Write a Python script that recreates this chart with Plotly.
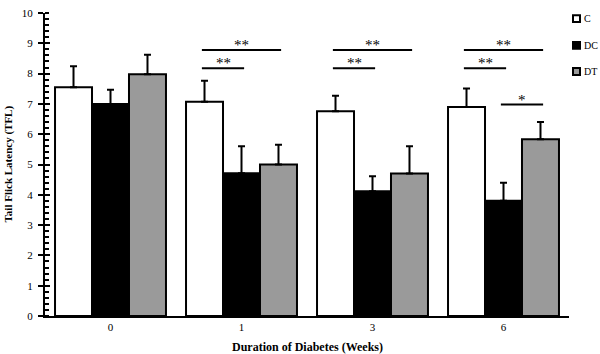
import plotly.graph_objects as go

# ---------------- data ----------------
weeks = ["0", "1", "3", "6"]
series_names = ["C", "DC", "DT"]
series_colors = ["#ffffff", "#000000", "#9a9a9a"]

mean_C = [7.55, 7.07, 6.76, 6.90]
mean_DC = [7.00, 4.71, 4.12, 3.80]
mean_DT = [7.98, 5.00, 4.70, 5.83]

err_C = [0.69, 0.69, 0.51, 0.61]
err_DC = [0.47, 0.89, 0.49, 0.60]
err_DT = [0.64, 0.65, 0.90, 0.57]

# significance brackets: group index, from-bar, to-bar, height, label
sig_group = [1, 1, 2, 2, 3, 3, 3]
sig_from = [0, 0, 0, 0, 0, 0, 1]
sig_to = [2, 1, 2, 1, 2, 1, 2]
sig_y = [8.78, 8.18, 8.78, 8.18, 8.78, 8.18, 6.98]
sig_label = ["**", "**", "**", "**", "**", "**", "*"]

means = [mean_C, mean_DC, mean_DT]
errs = [err_C, err_DC, err_DT]

FONT = "Liberation Serif"
bargap = 0.153
bw = (1 - bargap) / 3  # width of one bar in x units

fig = go.Figure()
xs = list(range(len(weeks)))
for name, color, m, e in zip(series_names, series_colors, means, errs):
    fig.add_trace(go.Bar(
        x=xs, y=m, name=name,
        marker=dict(color=color, line=dict(color="black", width=2)),
        error_y=dict(type="data", symmetric=False, array=e,
                     arrayminus=[0] * len(e), color="black",
                     thickness=2, width=3.5),
        showlegend=False,
    ))

# dummy trace to show the secondary (inside-tick) y axis
fig.add_trace(go.Scatter(x=[0], y=[0], yaxis="y2", mode="markers",
                         marker=dict(opacity=0), showlegend=False,
                         hoverinfo="skip"))

# significance lines and stars
shapes = []
annotations = []
pad = 0.02
for g, a, b, yv, lab in zip(sig_group, sig_from, sig_to, sig_y, sig_label):
    x0 = g + (a - 1) * bw - pad
    x1 = g + (b - 1) * bw + pad
    shapes.append(dict(type="line", xref="x", yref="y", x0=x0, x1=x1,
                       y0=yv, y1=yv, line=dict(color="black", width=2)))
    annotations.append(dict(x=(x0 + x1) / 2, y=yv, xref="x", yref="y",
                            text=lab, showarrow=False, yanchor="bottom",
                            yshift=-5,
                            font=dict(family=FONT, size=15, color="black")))

# x axis extension to the left of the y axis
shapes.append(dict(type="line", xref="paper", yref="y", x0=-0.0095, x1=0,
                   y0=0, y1=0, line=dict(color="black", width=2)))

# manual legend
L, T, W, H = 45, 7, 524, 309
def px2paper(px, py):
    return (px - L) / W, (316 - py) / H

leg_y = [12.7, 40.0, 66.7]
for name, color, py in zip(series_names, series_colors, leg_y):
    x0, y0 = px2paper(573, py - 3.5)
    x1, y1 = px2paper(580, py + 3.5)
    shapes.append(dict(type="rect", xref="paper", yref="paper",
                       x0=x0, x1=x1, y0=y0, y1=y1, fillcolor=color,
                       line=dict(color="black", width=2)))
    tx, ty = px2paper(583, py)
    annotations.append(dict(x=tx, y=ty, xref="paper", yref="paper",
                            text=name, showarrow=False, xanchor="left",
                            yanchor="middle", borderpad=0,
                            font=dict(family=FONT, size=10, color="black")))

# axis titles
annotations.append(dict(x=0.5, y=px2paper(0, 348)[1], xref="paper",
                        yref="paper", text="<b>Duration of Diabetes (Weeks)</b>",
                        showarrow=False, yanchor="middle",
                        font=dict(family=FONT, size=12, color="black")))
annotations.append(dict(x=px2paper(8, 0)[0], y=0.5, xref="paper",
                        yref="paper", text="<b>Tail Flick Latency (TFL)</b>",
                        showarrow=False, textangle=-90, xanchor="center",
                        yanchor="middle",
                        font=dict(family=FONT, size=11, color="black")))

fig.update_layout(
    width=600, height=354,
    margin=dict(l=45, r=31, t=7, b=38),
    paper_bgcolor="white", plot_bgcolor="white",
    barmode="group", bargap=bargap, bargroupgap=0,
    font=dict(family=FONT, size=11, color="black"),
    xaxis=dict(range=[-0.5, 3.5], tickvals=xs, ticktext=weeks,
               showline=True, linecolor="black", linewidth=2,
               ticks="", showgrid=False, zeroline=False,
               tickfont=dict(family=FONT, size=11)),
    yaxis=dict(range=[0, 10], dtick=1, showline=True, linecolor="black",
               linewidth=2, ticks="outside", ticklen=5, tickwidth=2,
               tickcolor="black", showgrid=False, zeroline=False,
               ticklabelstandoff=3,
               minor=dict(ticks="inside", dtick=0.2, ticklen=4,
                          tickwidth=1.5, tickcolor="black", showgrid=False),
               tickfont=dict(family=FONT, size=11)),
    yaxis2=dict(range=[0, 10], overlaying="y", side="left", dtick=1,
                ticks="inside", ticklen=5, tickwidth=2, tickcolor="black",
                showticklabels=False, showgrid=False, zeroline=False,
                showline=False),
    shapes=shapes,
    annotations=annotations,
)

fig.write_html("out.html")
